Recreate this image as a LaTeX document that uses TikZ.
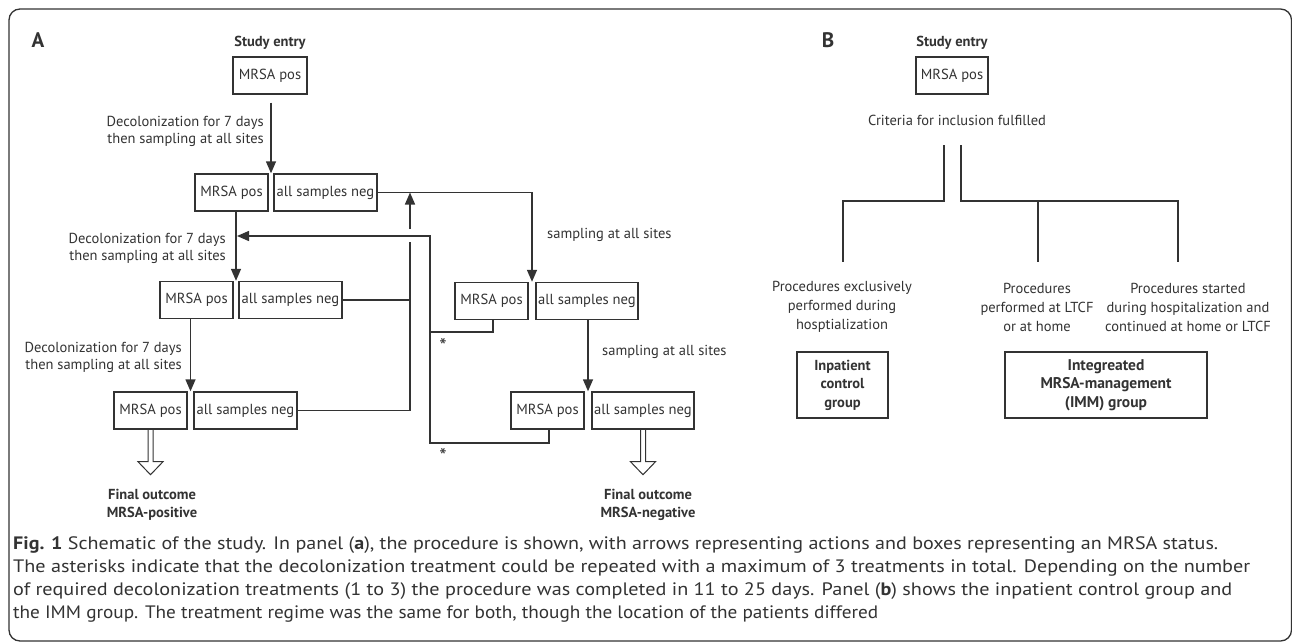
\documentclass[tikz,border=0pt]{standalone}
\usepackage{fontspec}
\setmainfont{PT Sans}
\usetikzlibrary{arrows.meta,calc}
\definecolor{ink}{HTML}{333333}
\begin{document}
\begin{tikzpicture}[x=1pt,y=-1pt,
  ln/.style={line width=1.4pt, draw=ink},
  arr/.style={ln, -{Triangle[width=10pt,length=12pt]}},
  hol/.style={line width=1pt, draw=ink},
  bx/.style={draw=ink, line width=1.4pt, minimum height=37pt, inner sep=0pt, text=ink, font=\fontsize{14.6}{18}\selectfont},
  posb/.style={bx, minimum width=73pt},
  negb/.style={bx, minimum width=103pt},
  lbl/.style={text=ink, inner sep=0pt, font=\fontsize{14.5}{17}\selectfont},
  opt/.style={text=ink, inner sep=0pt, align=center, font=\fontsize{14.5}{19}\selectfont},
  bold/.style={text=ink, inner sep=0pt, align=center, font=\bfseries\fontsize{14.5}{18.5}\selectfont},
  captxt/.style={text=ink, inner sep=0pt, anchor=base west, font=\fontsize{18}{18}\selectfont},
  ast/.style={text=ink, inner sep=0pt, anchor=north, font=\fontsize{21}{21}\selectfont}
]
\useasboundingbox (0,0) rectangle (1292,643);
\fill[white] (0,0) rectangle (1292,643);
\draw[line width=1.3pt, draw=ink, rounded corners=11pt] (9,9) rectangle (1291.5,641);

% ---------- Panel A ----------
\node[text=ink, inner sep=0pt, font=\bfseries\fontsize{21}{21}\selectfont] (A) at (38,40) {A};
\node[bold] (se) at (270,43) {Study entry};
\node[bx, minimum width=74pt] (e) at (270,75.5) {MRSA pos};

\node[posb] (p1) at (231.5,192.5) {MRSA pos};
\node[negb] (n1) at (325.5,192.5) {all samples neg};
\node[posb] (p2) at (196.5,300) {MRSA pos};
\node[negb] (n2) at (290.5,300) {all samples neg};
\node[posb] (p3) at (150.5,410.5) {MRSA pos};
\node[negb] (n3) at (245.5,410.5) {all samples neg};
\node[posb] (q1) at (491.5,301) {MRSA pos};
\node[negb, minimum width=102pt] (m1) at (587,301) {all samples neg};
\node[posb] (q2) at (547.5,410.5) {MRSA pos};
\node[negb, minimum width=102pt] (m2) at (643,410.5) {all samples neg};

\node[lbl, anchor=east, align=right] (d1) at (264,131.5) {Decolonization for 7 days\\then sampling at all sites};
\node[lbl, anchor=east, align=right] (d2) at (226,248) {Decolonization for 7 days\\then sampling at all sites};
\node[lbl, anchor=east, align=right] (d3) at (182,357) {Decolonization for 7 days\\then sampling at all sites};
\node[lbl, anchor=west] (s1) at (547,235) {sampling at all sites};
\node[lbl, anchor=west] (s2) at (602,352) {sampling at all sites};

\coordinate (g2) at ($(p2.north east)!.5!(n2.north west)$);
\coordinate (g3) at ($(p3.north east)!.5!(n3.north west)$);
\coordinate (h1) at ($(q1.north east)!.5!(m1.north west)$);
\coordinate (h2) at ($(q2.north east)!.5!(m2.north west)$);

\draw[arr] ($(e.south)+(1,8)$) -- ($(e.south |- p1.north)+(1,0)$);
\draw[arr] (p1.south -| g2) -- (g2);
\draw[arr] (p2.south -| g3) -- (g3);
\draw[arr] (n1.east) -| (h1);
\draw[arr] (m1.south -| h2) -- (h2);

% merge line to the right of the left column
\coordinate (vx) at (410,0);
\coordinate (b1) at (410,242);
\coordinate (b2) at (410,229);
\draw[ln] (n2.east) -- (n2.east -| vx);
\draw[ln] (n3.east) -| (b1);
\draw[arr] (b2) -- (n1.east -| b2);

% repeat-treatment loop
\coordinate (ret) at (430,236);
\coordinate (c1) at (430,332);
\coordinate (c2) at (430,443);
\draw[ln] ($(q1.south)+(1.5,0)$) |- (c1);
\draw[arr] ($(q2.south)+(1.5,0)$) |- (c2) -- (ret) -- ($(ret -| g2)+(1,0)$);
\node[ast] (a1) at (443,338) {*};
\node[ast] (a2) at (443,448) {*};

% hollow outcome arrows
\draw[hol] ($(p3.south)+(-2.5,0)$) -- ++(0,32) -- ++(-10,0) -- ++(12.5,13) -- ++(12.5,-13) -- ++(-10,0) -- ++(0,-32);
\draw[hol] ($(m2.south)+(-2.5,0)$) -- ++(0,32) -- ++(-10,0) -- ++(12.5,13) -- ++(12.5,-13) -- ++(-10,0) -- ++(0,-32);
\node[bold] (fo1) at (152,505) {Final outcome\\MRSA-positive};
\node[bold] (fo2) at (648,505) {Final outcome\\MRSA-negative};

% ---------- Panel B ----------
\node[text=ink, inner sep=0pt, font=\bfseries\fontsize{21}{21}\selectfont] (B) at (828,40) {B};
\node[bold] (sb) at (952,43) {Study entry};
\node[bx, minimum width=72pt] (eb) at (952,75.5) {MRSA pos};
\node[lbl] (crit) at (957,120) {Criteria for inclusion fulfilled};

\coordinate (t1) at (944,145);
\coordinate (t2) at (961,145);
\coordinate (j) at (0,201);
\coordinate (k1) at (843,262);
\coordinate (k2) at (1038,262);
\coordinate (k3) at (1178,262);
\draw[ln] (t1) -- (t1 |- j) -| (k1);
\draw[ln] (t2) -- (t2 |- j) -| (k3);
\draw[ln] (k2 |- j) -- (k2);

\node[opt] (o1) at (842,307) {Procedures exclusively\\performed during\\hosptialization};
\node[opt] (o2) at (1037,307) {Procedures\\performed at LTCF\\or at home};
\node[opt] (o3) at (1188,307) {Procedures started\\during hospitalization and\\continued at home or LTCF};

\node[bx, bold, align=center, minimum width=91pt, minimum height=66pt] (gi) at (842.5,385) {Inpatient\\control\\group};
\node[bx, bold, align=center, minimum width=202pt, minimum height=66pt, font=\bfseries\fontsize{15.5}{18.5}\selectfont] (gm) at (1106,385) {Integreated\\MRSA-management\\(IMM) group};

% ---------- Caption ----------
\node[captxt] (cap1) at (13,549) {\resizebox{1205pt}{\height}{\textbf{Fig. 1} Schematic of the study. In panel (\textbf{a}), the procedure is shown, with arrows representing actions and boxes representing an MRSA status.}};
\node[captxt] (cap2) at (13,572) {\resizebox{1237pt}{\height}{The asterisks indicate that the decolonization treatment could be repeated with a maximum of 3 treatments in total. Depending on the number}};
\node[captxt] (cap3) at (13,595) {\resizebox{1219pt}{\height}{of required decolonization treatments (1 to 3) the procedure was completed in 11 to 25 days. Panel (\textbf{b}) shows the inpatient control group and}};
\node[captxt] (cap4) at (13,618) {\resizebox{865pt}{\height}{the IMM group. The treatment regime was the same for both, though the location of the patients differed}};
\end{tikzpicture}
\end{document}
